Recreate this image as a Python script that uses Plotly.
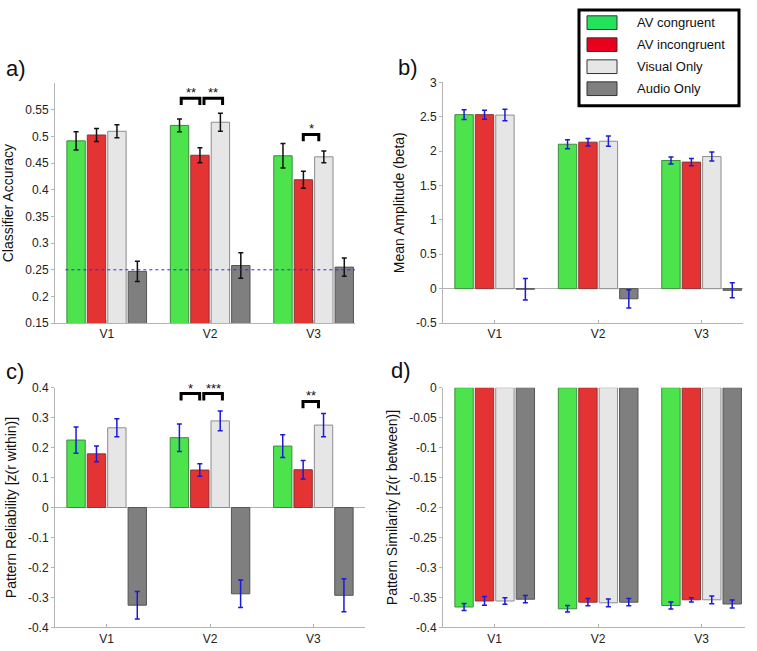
import plotly.graph_objects as go

# ---- data ----
regions = ["V1", "V2", "V3"]
conditions = ["AV congruent", "AV incongruent", "Visual Only", "Audio Only"]

# a) classifier accuracy
acc_mean = {
    "AV congruent":   [0.492, 0.521, 0.464],
    "AV incongruent": [0.503, 0.465, 0.419],
    "Visual Only":    [0.510, 0.527, 0.462],
    "Audio Only":     [0.247, 0.258, 0.255],
}
acc_err = {
    "AV congruent":   [0.017, 0.012, 0.023],
    "AV incongruent": [0.012, 0.014, 0.016],
    "Visual Only":    [0.012, 0.017, 0.011],
    "Audio Only":     [0.019, 0.024, 0.017],
}

# b) mean amplitude (beta)
amp_mean = {
    "AV congruent":   [2.53, 2.10, 1.864],
    "AV incongruent": [2.53, 2.13, 1.84],
    "Visual Only":    [2.524, 2.144, 1.921],
    "Audio Only":     [-0.008, -0.147, -0.024],
}
amp_err = {
    "AV congruent":   [0.071, 0.064, 0.052],
    "AV incongruent": [0.065, 0.055, 0.052],
    "Visual Only":    [0.083, 0.074, 0.066],
    "Audio Only":     [0.157, 0.133, 0.109],
}

# c) pattern reliability
rel_mean = {
    "AV congruent":   [0.225, 0.233, 0.205],
    "AV incongruent": [0.179, 0.125, 0.126],
    "Visual Only":    [0.266, 0.289, 0.275],
    "Audio Only":     [-0.326, -0.288, -0.293],
}
rel_err = {
    "AV congruent":   [0.044, 0.046, 0.038],
    "AV incongruent": [0.026, 0.021, 0.031],
    "Visual Only":    [0.030, 0.033, 0.039],
    "Audio Only":     [0.046, 0.046, 0.055],
}

# d) pattern similarity
sim_mean = {
    "AV congruent":   [-0.366, -0.369, -0.3635],
    "AV incongruent": [-0.356, -0.358, -0.354],
    "Visual Only":    [-0.356, -0.359, -0.354],
    "Audio Only":     [-0.353, -0.358, -0.361],
}
sim_err = {
    "AV congruent":   [0.006, 0.0054, 0.006],
    "AV incongruent": [0.0073, 0.006, 0.0035],
    "Visual Only":    [0.0054, 0.0065, 0.0065],
    "Audio Only":     [0.006, 0.006, 0.0065],
}

chance_level = 0.25

acc_ticks = [0.15, 0.2, 0.25, 0.3, 0.35, 0.4, 0.45, 0.5, 0.55]
acc_ticktext = ["0.15", "0.2", "0.25", "0.3", "0.35", "0.4", "0.45", "0.5", "0.55"]
amp_ticks = [-0.5, 0, 0.5, 1, 1.5, 2, 2.5, 3]
amp_ticktext = ["-0.5", "0", "0.5", "1", "1.5", "2", "2.5", "3"]
rel_ticks = [-0.4, -0.3, -0.2, -0.1, 0, 0.1, 0.2, 0.3, 0.4]
rel_ticktext = ["-0.4", "-0.3", "-0.2", "-0.1", "0", "0.1", "0.2", "0.3", "0.4"]
sim_ticks = [-0.4, -0.35, -0.3, -0.25, -0.2, -0.15, -0.1, -0.05, 0]
sim_ticktext = ["-0.4", "-0.35", "-0.3", "-0.25", "-0.2", "-0.15", "-0.1", "-0.05", "0"]

# significance brackets: (axis suffix, region index, left offset, right offset, y, stars)
brackets = [
    ("", 1, -0.28, -0.10, 0.572, "**"),
    ("", 1, -0.06, 0.12, 0.572, "**"),
    ("", 2, -0.10, 0.05, 0.504, "*"),
    ("3", 1, -0.28, -0.10, 0.380, "*"),
    ("3", 1, -0.06, 0.12, 0.380, "***"),
    ("3", 2, -0.10, 0.05, 0.354, "**"),
]

# ---- style ----
W, H = 757, 651
fill = {"AV congruent": "#4de34d", "AV incongruent": "#e33333",
        "Visual Only": "#e6e6e6", "Audio Only": "#7f7f7f"}
edge = {"AV congruent": "#3f8a3f", "AV incongruent": "#8a3535",
        "Visual Only": "#8c8c8c", "Audio Only": "#555555"}
legend_fill = {"AV congruent": "#22e35a", "AV incongruent": "#e8001c",
               "Visual Only": "#e6e6e6", "Audio Only": "#7f7f7f"}
FONT = "Liberation Sans, Arial, Helvetica, sans-serif"
xpos = [1, 2, 3]


def fx(p):
    return p / W


def fy(p):
    return 1 - p / H


fig = go.Figure()

panels = [
    ("", acc_mean, acc_err, "#111111"),
    ("2", amp_mean, amp_err, "#1a1ad8"),
    ("3", rel_mean, rel_err, "#1a1ad8"),
    ("4", sim_mean, sim_err, "#1a1ad8"),
]
for suf, means, errs, ecol in panels:
    for c in conditions:
        fig.add_trace(go.Bar(
            x=xpos, y=means[c], name=c, showlegend=False,
            xaxis="x" + suf, yaxis="y" + suf,
            marker=dict(color=fill[c], line=dict(color=edge[c], width=1)),
            error_y=dict(type="data", array=errs[c], color=ecol, thickness=1.5, width=2.5),
        ))

axis_common = dict(showgrid=False, showline=True, linecolor="#b4b4b4", linewidth=1,
                   tickfont=dict(family=FONT, size=12, color="#222"))
xcommon = dict(axis_common, tickvals=xpos, ticktext=regions, ticks="inside",
               ticklen=3, tickcolor="#b4b4b4", zeroline=False)
ycommon = dict(axis_common, ticks="outside", ticklen=3, tickcolor="#b4b4b4",
               title_font=dict(family=FONT, size=14, color="#111"), title_standoff=8)

fig.update_layout(
    width=W, height=H, margin=dict(l=0, r=0, t=0, b=0),
    paper_bgcolor="white", plot_bgcolor="white",
    barmode="group", bargap=0.21, bargroupgap=0.1,
    xaxis=dict(xcommon, domain=[fx(55), fx(355)], range=[0.5, 3.4], anchor="y"),
    yaxis=dict(ycommon, domain=[fy(323), fy(78)], range=[0.15, 0.6], anchor="x",
               tickvals=acc_ticks, ticktext=acc_ticktext, zeroline=False,
               title_text="Classifier Accuracy"),
    xaxis2=dict(xcommon, domain=[fx(443), fx(743)], range=[0.5, 3.4], anchor="y2"),
    yaxis2=dict(ycommon, domain=[fy(323), fy(77)], range=[-0.5, 3], anchor="x2",
                tickvals=amp_ticks, ticktext=amp_ticktext, zeroline=True,
                zerolinecolor="#b4b4b4", zerolinewidth=1,
                title_text="Mean Amplitude (beta)"),
    xaxis3=dict(xcommon, domain=[fx(55), fx(365)], range=[0.5, 3.5], anchor="y3"),
    yaxis3=dict(ycommon, domain=[fy(634), fy(389)], range=[-0.4, 0.4], anchor="x3",
                tickvals=rel_ticks, ticktext=rel_ticktext, zeroline=True,
                zerolinecolor="#b4b4b4", zerolinewidth=1,
                title_text="Pattern Reliability [z(r within)]"),
    xaxis4=dict(xcommon, domain=[fx(443), fx(745)], range=[0.5, 3.42], anchor="y4"),
    yaxis4=dict(ycommon, domain=[fy(634), fy(389)], range=[-0.4, 0], anchor="x4",
                tickvals=sim_ticks, ticktext=sim_ticktext, zeroline=False,
                title_text="Pattern Similarity [z(r between)]"),
)

# chance level line in panel a
fig.add_shape(type="line", xref="x", yref="y", x0=0.6, x1=3.4,
              y0=chance_level, y1=chance_level,
              line=dict(color="#2a2aff", width=1, dash="dot"))

# significance brackets
for suf, ri, o0, o1, yb, stars in brackets:
    yax = "y" + suf
    span = 0.45 if suf == "" else 0.8
    leg = span * 7 / 245
    x0, x1 = xpos[ri] + o0, xpos[ri] + o1
    fig.add_shape(type="path", xref="x" + suf, yref=yax,
                  path=f"M {x0},{yb - leg} L {x0},{yb} L {x1},{yb} L {x1},{yb - leg}",
                  line=dict(color="black", width=3))
    fig.add_annotation(x=(x0 + x1) / 2, y=yb, xref="x" + suf, yref=yax,
                       text=stars, showarrow=False, yanchor="bottom", yshift=-4,
                       font=dict(family=FONT, size=13, color="#111"))

# panel letters
for txt, px_, py_ in [("a)", 4, 63), ("b)", 396, 62), ("c)", 4, 372), ("d)", 389, 371)]:
    fig.add_annotation(x=fx(px_), y=fy(py_), xref="paper", yref="paper", text=txt,
                       showarrow=False, xanchor="left", yanchor="middle",
                       font=dict(family=FONT, size=22, color="#111"))

# legend box
fig.add_shape(type="rect", xref="paper", yref="paper",
              x0=fx(579), x1=fx(739), y0=fy(101), y1=fy(3),
              line=dict(color="black", width=3), fillcolor="white")
for i, c in enumerate(conditions):
    cy = 16 + i * 22.5
    fig.add_shape(type="rect", xref="paper", yref="paper",
                  x0=fx(587), x1=fx(617), y0=fy(cy + 7), y1=fy(cy - 7),
                  line=dict(color="#333", width=1), fillcolor=legend_fill[c])
    fig.add_annotation(x=fx(635), y=fy(cy), xref="paper", yref="paper", text=c,
                       showarrow=False, xanchor="left", yanchor="middle",
                       font=dict(family=FONT, size=13, color="#111"))

# drop the browser's default page margin so the figure sits at the window origin
fig.write_html("out.html", config={"displayModeBar": False},
               post_script="document.body.style.margin='0';")
